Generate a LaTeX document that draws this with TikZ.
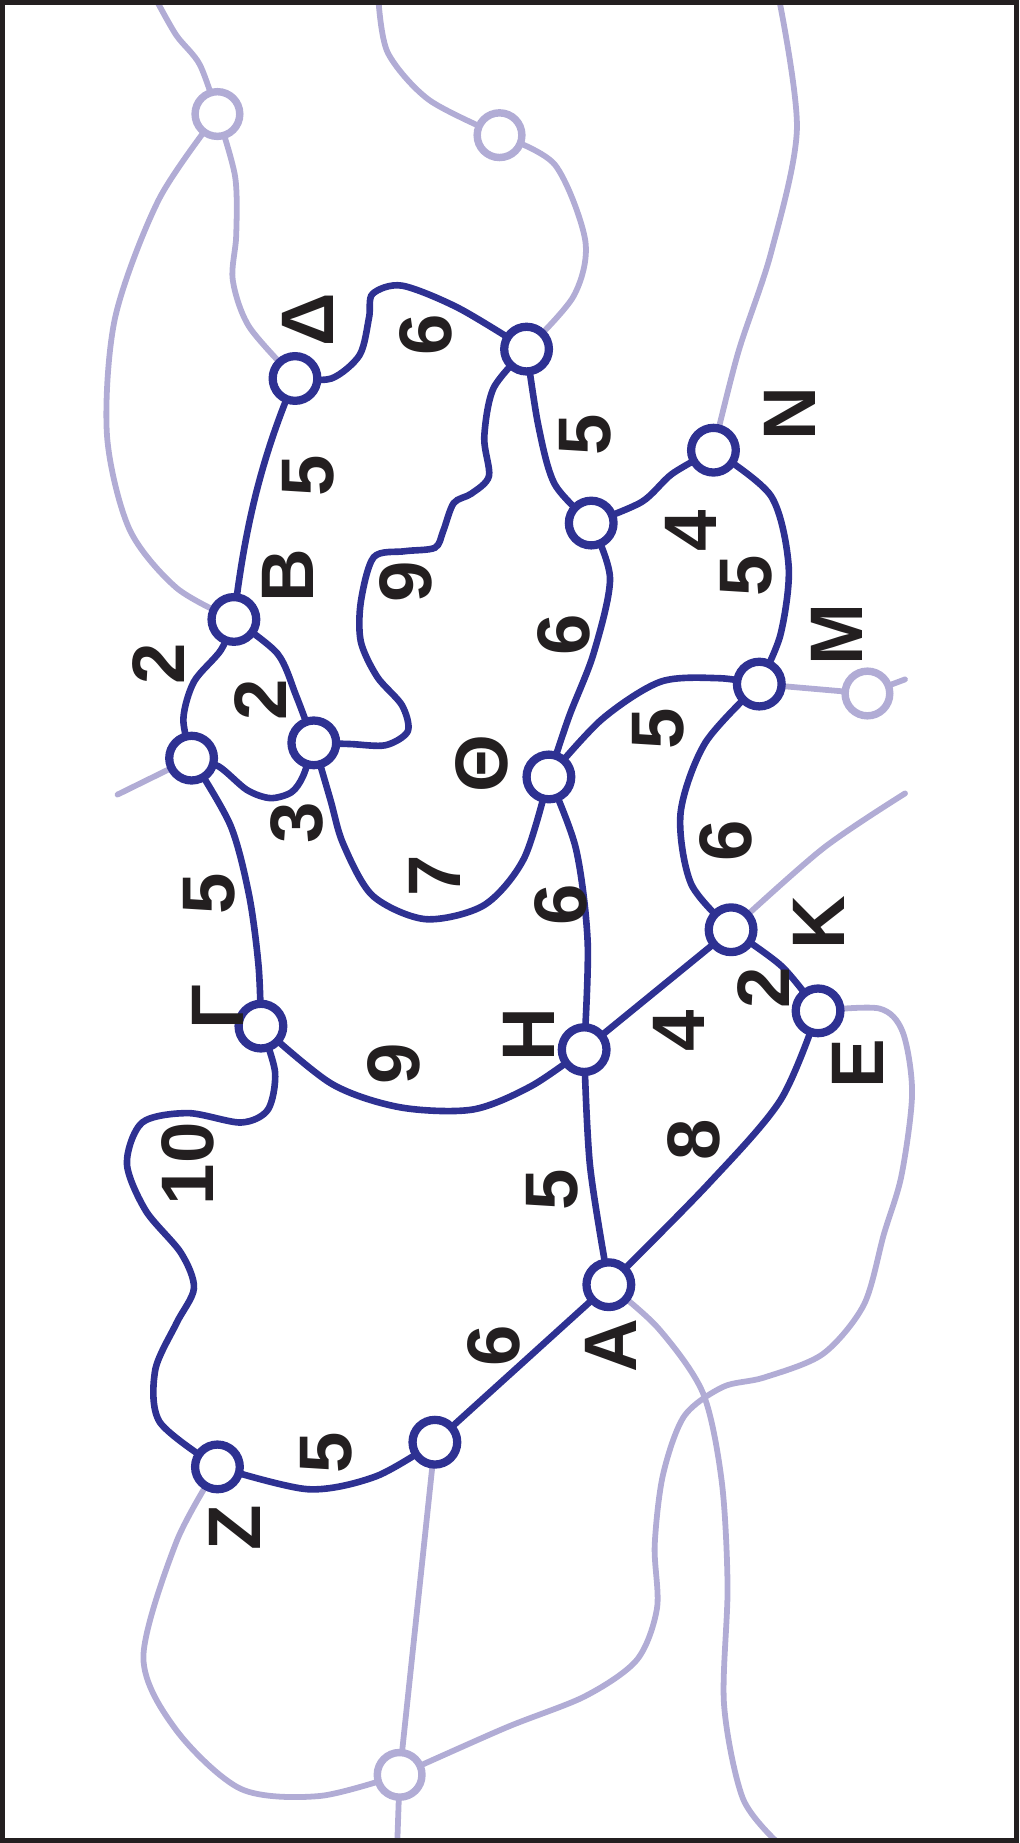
\documentclass[tikz,border=0pt]{standalone}
\usepackage{fontspec}
\setmainfont{Liberation Sans}
\usetikzlibrary{backgrounds}
\definecolor{netblue}{HTML}{2E3192}
\definecolor{netgrey}{HTML}{B1ACD5}
\definecolor{ink}{HTML}{231F20}

\begin{document}
\begin{tikzpicture}[x=0.01cm,y=-0.01cm,
  vtx/.style={circle,draw=netblue,line width=2pt,fill=white,minimum size=0.38cm,inner sep=0pt},
  gvtx/.style={vtx,draw=netgrey,line width=1.8pt},
  road/.style={draw=netblue,line width=1.6pt,line cap=round},
  groad/.style={draw=netgrey,line width=1.4pt,line cap=round},
  lab/.style={rotate=90,text=ink,font=\fontsize{18}{18}\selectfont\bfseries,inner sep=0pt}]
\useasboundingbox (0,0) rectangle (867,1568);

% light vertices
\node[gvtx] (gTopL) at (185,97) {};
\node[gvtx] (gTopR) at (425,115) {};
\node[gvtx] (gRight) at (738,590) {};
\node[gvtx] (gBottom) at (340,1510) {};

% blue vertices
\node[vtx] (nDelta) at (251,322) {};
\node[vtx] (nTop) at (448,297) {};
\node[vtx] (nN) at (607,383) {};
\node[vtx] (nMid) at (503,445) {};
\node[vtx] (nB) at (199,527) {};
\node[vtx] (nInner) at (267,632) {};
\node[vtx] (nLeft) at (163,645) {};
\node[vtx] (nM) at (646,582) {};
\node[vtx] (nTheta) at (467,661) {};
\node[vtx] (nK) at (622,791) {};
\node[vtx] (nE) at (696,860) {};
\node[vtx] (nGamma) at (222,873) {};
\node[vtx] (nH) at (497,893) {};
\node[vtx] (nA) at (518,1093) {};
\node[vtx] (nLow) at (370,1227) {};
\node[vtx] (nZ) at (185,1248) {};

% free ends
\coordinate (eTopL) at (133,0);
\coordinate (eTopM) at (322,0);
\coordinate (eTopR) at (663,0);
\coordinate (eLeft) at (100,676);
\coordinate (eMR) at (770,578);
\coordinate (eKR) at (770,675);
\coordinate (eBotM) at (338,1568);
\coordinate (eBotR) at (662,1568);

\begin{scope}[on background layer]
  % outside roads
  \draw[groad] plot[smooth] coordinates {(eTopL) (150,30) (170,55) (gTopL.center)};
  \draw[groad] plot[smooth] coordinates {(gTopL.center) (200,150) (201,200) (198,238) (212,278) (nDelta.center)};
  \draw[groad] plot[smooth] coordinates {(gTopL.center) (135,170) (98,270) (91,370) (110,450) (150,500) (nB.center)};
  \draw[groad] plot[smooth] coordinates {(eTopM) (330,45) (365,85) (gTopR.center)};
  \draw[groad] plot[smooth] coordinates {(gTopR.center) (472,140) (498,205) (488,252) (nTop.center)};
  \draw[groad] plot[smooth] coordinates {(eTopR) (678,110) (656,215) (628,300) (nN.center)};
  \draw[groad] (nLeft.center) -- (eLeft);
  \draw[groad] (nM.center) -- (gRight.center) -- (eMR);
  \draw[groad] plot[smooth] coordinates {(nK.center) (700,722) (eKR)};
  \draw[groad] plot[smooth] coordinates {(nE.center) (748,858) (768,878) (776,930) (767,1000) (752,1050) (735,1110) (700,1152) (650,1172) (615,1180) (582,1205) (564,1255) (557,1315) (559,1368) (542,1412) (498,1443) (430,1470) (gBottom.center)};
  \draw[groad] plot[smooth] coordinates {(nA.center) (560,1130) (598,1185) (614,1260) (619,1350) (616,1450) (632,1530) (eBotR)};
  \draw[groad] plot[smooth] coordinates {(nZ.center) (150,1312) (122,1410) (150,1472) (205,1522) (272,1528) (gBottom.center)};
  \draw[groad] (nLow.center) -- (gBottom.center);
  \draw[groad] (gBottom.center) -- (eBotM);
  % network roads
  \draw[road] plot[smooth] coordinates {(nDelta.center) (282,322) (306,302) (314,270) (317,250) (342,243) (390,262) (nTop.center)};
  \draw[road] (nDelta.center) .. controls (222,390) and (208,450) .. (nB.center);
  \draw[road] plot[smooth] coordinates {(nTop.center) (458,362) (472,412) (nMid.center)};
  \draw[road] plot[smooth] coordinates {(nTop.center) (420,330) (412,372) (416,405) (401,420) (386,428) (377,452) (370,466) (344,469) (318,474) (307,512) (307,546) (321,576) (342,600) (347,622) (328,634) (298,633) (nInner.center)};
  \draw[road] plot[smooth] coordinates {(nMid.center) (546,427) (572,403) (nN.center)};
  \draw[road] plot[smooth] coordinates {(nMid.center) (519,492) (505,556) (484,610) (nTheta.center)};
  \draw[road] plot[smooth] coordinates {(nN.center) (656,422) (671,482) (664,540) (nM.center)};
  \draw[road] plot[smooth] coordinates {(nTheta.center) (512,612) (562,580) (612,577) (nM.center)};
  \draw[road] plot[smooth] coordinates {(nB.center) (236,556) (252,592) (nInner.center)};
  \draw[road] plot[smooth] coordinates {(nB.center) (188,553) (165,580) (156,612) (nLeft.center)};
  \draw[road] plot[smooth] coordinates {(nLeft.center) (186,652) (210,672) (230,679) (248,674) (258,660) (nInner.center)};
  \draw[road] plot[smooth] coordinates {(nInner.center) (281,680) (292,718) (317,762) (362,782) (412,770) (446,730) (nTheta.center)};
  \draw[road] plot[smooth] coordinates {(nLeft.center) (196,702) (212,762) (220,822) (nGamma.center)};
  \draw[road] plot[smooth] coordinates {(nM.center) (600,632) (579,692) (588,752) (nK.center)};
  \draw[road] plot[smooth] coordinates {(nTheta.center) (490,722) (500,802) (nH.center)};
  \draw[road] plot[smooth] coordinates {(nK.center) (665,822) (nE.center)};
  \draw[road] (nK.center) -- (nH.center);
  \draw[road] plot[smooth] coordinates {(nGamma.center) (282,922) (340,942) (402,944) (452,924) (nH.center)};
  \draw[road] plot[smooth] coordinates {(nGamma.center) (234,912) (228,944) (205,955) (160,947) (121,955) (108,990) (124,1030) (154,1066) (165,1096) (150,1126) (132,1166) (136,1210) (nZ.center)};
  \draw[road] plot[smooth] coordinates {(nH.center) (502,992) (nA.center)};
  \draw[road] plot[smooth] coordinates {(nE.center) (664,936) (602,1008) (nA.center)};
  \draw[road] (nA.center) -- (nLow.center);
  \draw[road] plot[smooth] coordinates {(nLow.center) (320,1256) (262,1267) (nZ.center)};
\end{scope}

% vertex letters
\node[lab] (tDelta) at (262,272) {Δ};
\node[lab] (tN) at (672,352) {Ν};
\node[lab] (tB) at (245,490) {Β};
\node[lab] (tM) at (712,540) {Μ};
\node[lab] (tTheta) at (410,650) {Θ};
\node[lab] (tK) at (697,785) {Κ};
\node[lab] (tGamma) at (185,857) {Γ};
\node[lab] (tH) at (450,880) {Η};
\node[lab] (tE) at (730,905) {Ε};
\node[lab] (tA) at (520,1145) {Α};
\node[lab] (tZ) at (200,1300) {Ζ};

% distances
\node[lab] (wDeltaTop) at (362,285) {6};
\node[lab] (wTopMid) at (498,370) {5};
\node[lab] (wDeltaB) at (262,405) {5};
\node[lab] (wMidN) at (588,452) {4};
\node[lab] (wNM) at (635,490) {5};
\node[lab] (wTopInner) at (345,495) {9};
\node[lab] (wMidTheta) at (480,540) {6};
\node[lab] (wBLeft) at (135,565) {2};
\node[lab] (wBInner) at (222,595) {2};
\node[lab] (wThetaM) at (560,620) {5};
\node[lab] (wLeftInner) at (253,700) {3};
\node[lab] (wMK) at (618,715) {6};
\node[lab] (wInnerTheta) at (370,745) {7};
\node[lab] (wLeftGamma) at (178,760) {5};
\node[lab] (wThetaH) at (477,770) {6};
\node[lab] (wKE) at (650,840) {2};
\node[lab] (wHK) at (578,877) {4};
\node[lab] (wGammaH) at (335,905) {9};
\node[lab] (wEA) at (590,970) {8};
\node[lab] (wGammaZ) at (160,990) {10};
\node[lab] (wHA) at (470,1012) {5};
\node[lab] (wALow) at (420,1145) {6};
\node[lab] (wLowZ) at (278,1236) {5};

% frame
\draw[ink,line width=1.2pt] (2.5,2.5) rectangle (864.5,1565.5);
\end{tikzpicture}
\end{document}
